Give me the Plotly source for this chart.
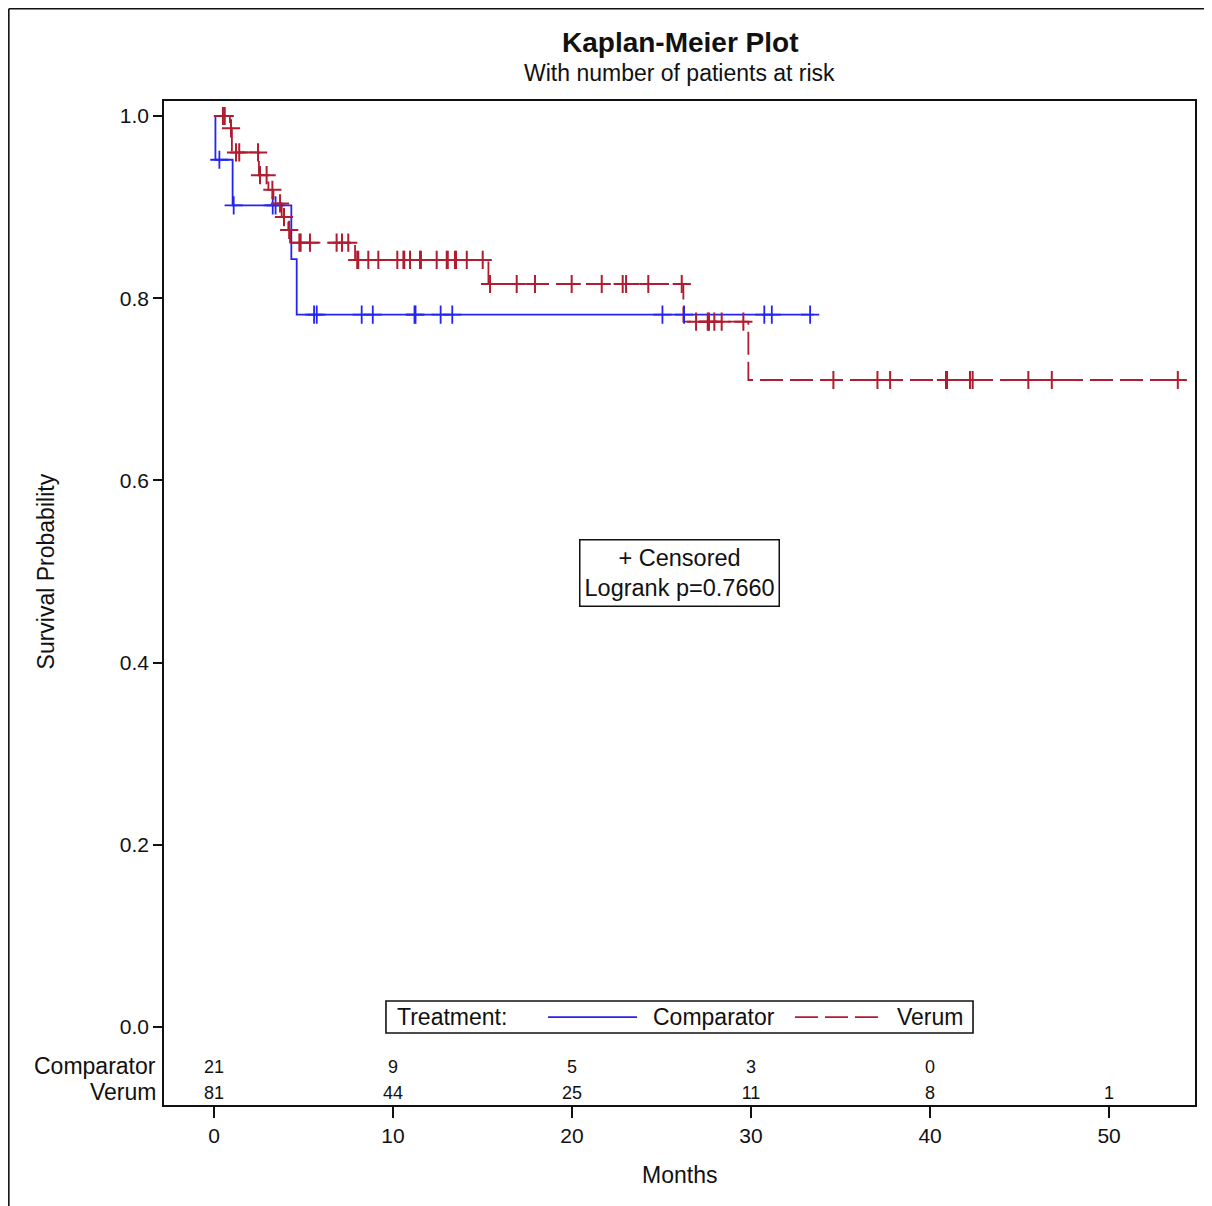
import numpy as np
import plotly.graph_objects as go

# ---------------- data ----------------
comp_times = [0, 0.08, 1.04, 4.32, 4.62]
comp_surv = [1.0, 0.952, 0.902, 0.843, 0.782]
comp_end = 33.5
comp_censor = [0.3, 1.1, 3.28, 3.44, 5.59, 5.74, 8.25, 8.87, 11.2, 11.26, 12.66,
               13.31, 25.05, 26.26, 30.74, 31.16, 33.3]

verum_times = [0, 0.89, 1.0, 2.51, 3.04, 3.32, 3.78, 4.15, 4.25, 7.88, 15.33, 26.22, 29.85]
verum_surv = [1.0, 0.9865, 0.960, 0.935, 0.919, 0.904, 0.889, 0.875, 0.861, 0.842,
              0.8156, 0.7742, 0.7102]
verum_end = 53.84
verum_censor = [0.5, 0.6, 0.95, 1.23, 1.41, 2.46, 2.57, 2.94, 3.26, 3.69, 3.91, 4.2,
                4.77, 4.84, 5.36, 6.85, 7.15, 7.5, 8.0, 8.06, 8.62, 9.18, 10.24, 10.58,
                10.63, 10.95, 11.51, 11.56, 12.44, 13.0, 13.06, 13.46, 13.52, 14.12,
                15.01, 15.42, 16.91, 17.93, 19.98, 21.66, 22.83, 23.02, 24.26, 26.13,
                26.93, 27.58, 27.65, 27.95, 28.36, 29.57, 34.6, 37.06, 37.77, 40.89,
                40.95, 42.23, 42.38, 45.49, 46.8, 53.84]

risk_times = [0, 10, 20, 30, 40, 50]
comp_risk = ["21", "9", "5", "3", "0", ""]
verum_risk = ["81", "44", "25", "11", "8", "1"]

y_ticks = [0.0, 0.2, 0.4, 0.6, 0.8, 1.0]
x_ticks = [0, 10, 20, 30, 40, 50]

BLUE = "#2424EE"
RED = "#B01C30"
FONT = "Liberation Sans, Arial, sans-serif"
INK = "#111111"


def step_at(times, surv, t):
    idx = np.searchsorted(np.array(times), np.array(t), side="right") - 1
    return np.array(surv)[idx]


fig = go.Figure()

# survival curves
fig.add_trace(go.Scatter(x=comp_times + [comp_end], y=comp_surv + [comp_surv[-1]],
                         mode="lines", line=dict(color=BLUE, width=1.8, shape="hv"),
                         showlegend=False, hoverinfo="skip"))
fig.add_trace(go.Scatter(x=verum_times + [verum_end], y=verum_surv + [verum_surv[-1]],
                         mode="lines", line=dict(color=RED, width=1.8, shape="hv", dash="23px,7px"),
                         showlegend=False, hoverinfo="skip"))

# censor marks
fig.add_trace(go.Scatter(x=comp_censor, y=step_at(comp_times, comp_surv, comp_censor),
                         mode="markers",
                         marker=dict(symbol="cross-thin", size=13, line=dict(color=BLUE, width=1.8)),
                         showlegend=False, hoverinfo="skip"))
fig.add_trace(go.Scatter(x=verum_censor, y=step_at(verum_times, verum_surv, verum_censor),
                         mode="markers",
                         marker=dict(symbol="cross-thin", size=13, line=dict(color=RED, width=2)),
                         showlegend=False, hoverinfo="skip"))

# at-risk table
COMP_ROW_Y = -0.0428
VERUM_ROW_Y = -0.0713
NUM_SHIFT = -0.003
fig.add_trace(go.Scatter(x=risk_times, y=[COMP_ROW_Y + NUM_SHIFT] * len(risk_times), mode="text",
                         text=comp_risk, textfont=dict(family=FONT, size=18, color=INK),
                         cliponaxis=False, showlegend=False, hoverinfo="skip"))
fig.add_trace(go.Scatter(x=risk_times, y=[VERUM_ROW_Y + NUM_SHIFT] * len(risk_times), mode="text",
                         text=verum_risk, textfont=dict(family=FONT, size=18, color=INK),
                         cliponaxis=False, showlegend=False, hoverinfo="skip"))

annotations = [
    dict(text="<b>Kaplan-Meier Plot</b>", xref="paper", yref="paper", x=0.5, y=1.0578,
         xanchor="center", yanchor="middle", showarrow=False,
         font=dict(family=FONT, size=28, color=INK)),
    dict(text="With number of patients at risk", xref="paper", yref="paper", x=0.5, y=1.0279,
         xanchor="center", yanchor="middle", showarrow=False,
         font=dict(family=FONT, size=23, color=INK)),
    dict(text="Survival Probability", xref="paper", yref="y", x=-0.1145, y=0.5,
         xanchor="center", yanchor="middle", textangle=-90, showarrow=False,
         font=dict(family=FONT, size=23, color=INK)),
    dict(text="Months", xref="paper", yref="paper", x=0.5, y=-0.0697,
         xanchor="center", yanchor="middle", showarrow=False,
         font=dict(family=FONT, size=23, color=INK)),
    dict(text="Comparator", xref="paper", yref="y", x=-0.006, y=COMP_ROW_Y,
         xanchor="right", yanchor="middle", showarrow=False,
         font=dict(family=FONT, size=23, color=INK)),
    dict(text="Verum", xref="paper", yref="y", x=-0.006, y=VERUM_ROW_Y,
         xanchor="right", yanchor="middle", showarrow=False,
         font=dict(family=FONT, size=23, color=INK)),
    dict(text="+ Censored<br>Logrank p=0.7660", xref="paper", yref="paper", x=0.5, y=0.5299,
         xanchor="center", yanchor="middle", showarrow=False, align="center",
         bordercolor=INK, borderwidth=1.5, borderpad=4, bgcolor="white",
         font=dict(family=FONT, size=23.5, color=INK)),
    # manual legend texts
    dict(text="Treatment:", xref="paper", yref="paper", x=0.2241, y=0.0876,
         xanchor="left", yanchor="middle", showarrow=False,
         font=dict(family=FONT, size=23, color=INK)),
    dict(text="Comparator", xref="paper", yref="paper", x=0.4724, y=0.0876,
         xanchor="left", yanchor="middle", showarrow=False,
         font=dict(family=FONT, size=23, color=INK)),
    dict(text="Verum", xref="paper", yref="paper", x=0.709, y=0.0876,
         xanchor="left", yanchor="middle", showarrow=False,
         font=dict(family=FONT, size=23, color=INK)),
]

shapes = [
    # legend box
    dict(type="rect", xref="paper", yref="paper", x0=0.2153, x1=0.7847, y0=0.0717, y1=0.1036,
         line=dict(color=INK, width=1.6), fillcolor="white", layer="above"),
    dict(type="line", xref="paper", yref="paper", x0=0.3725, x1=0.4588, y0=0.0876, y1=0.0876,
         line=dict(color=BLUE, width=1.8)),
    dict(type="line", xref="paper", yref="paper", x0=0.612, x1=0.6925, y0=0.0876, y1=0.0876,
         line=dict(color=RED, width=1.8, dash="23px,7px")),
    # outer frame (left and top)
    dict(type="line", xref="paper", yref="paper", x0=-0.1505, x1=-0.1505, y0=-0.2, y1=1.0920,
         line=dict(color=INK, width=1.6)),
    dict(type="line", xref="paper", yref="paper", x0=-0.1505, x1=1.2, y0=1.0920, y1=1.0920,
         line=dict(color=INK, width=1.6)),
]

fig.update_layout(
    width=1212, height=1206, autosize=False,
    margin=dict(l=156, r=25, t=93, b=109),
    paper_bgcolor="white", plot_bgcolor="white",
    font=dict(family=FONT, color=INK),
    annotations=annotations, shapes=shapes,
    showlegend=False,
)
fig.update_xaxes(range=[-2.793, 54.80], tickvals=x_ticks, ticktext=[str(v) for v in x_ticks],
                 ticks="outside", ticklen=11, tickwidth=1.5, tickcolor=INK,
                 tickfont=dict(family=FONT, size=21, color=INK),
                 showline=True, linecolor=INK, linewidth=1.6, mirror=True,
                 showgrid=False, zeroline=False)
fig.update_yaxes(range=[-0.08562, 1.01647], tickvals=y_ticks,
                 ticktext=[f"{v:.1f}" for v in y_ticks],
                 ticks="outside", ticklen=9, tickwidth=1.5, tickcolor=INK,
                 tickfont=dict(family=FONT, size=21, color=INK),
                 showline=True, linecolor=INK, linewidth=1.6, mirror=True,
                 showgrid=False, zeroline=False)

fig.write_html("out.html")
